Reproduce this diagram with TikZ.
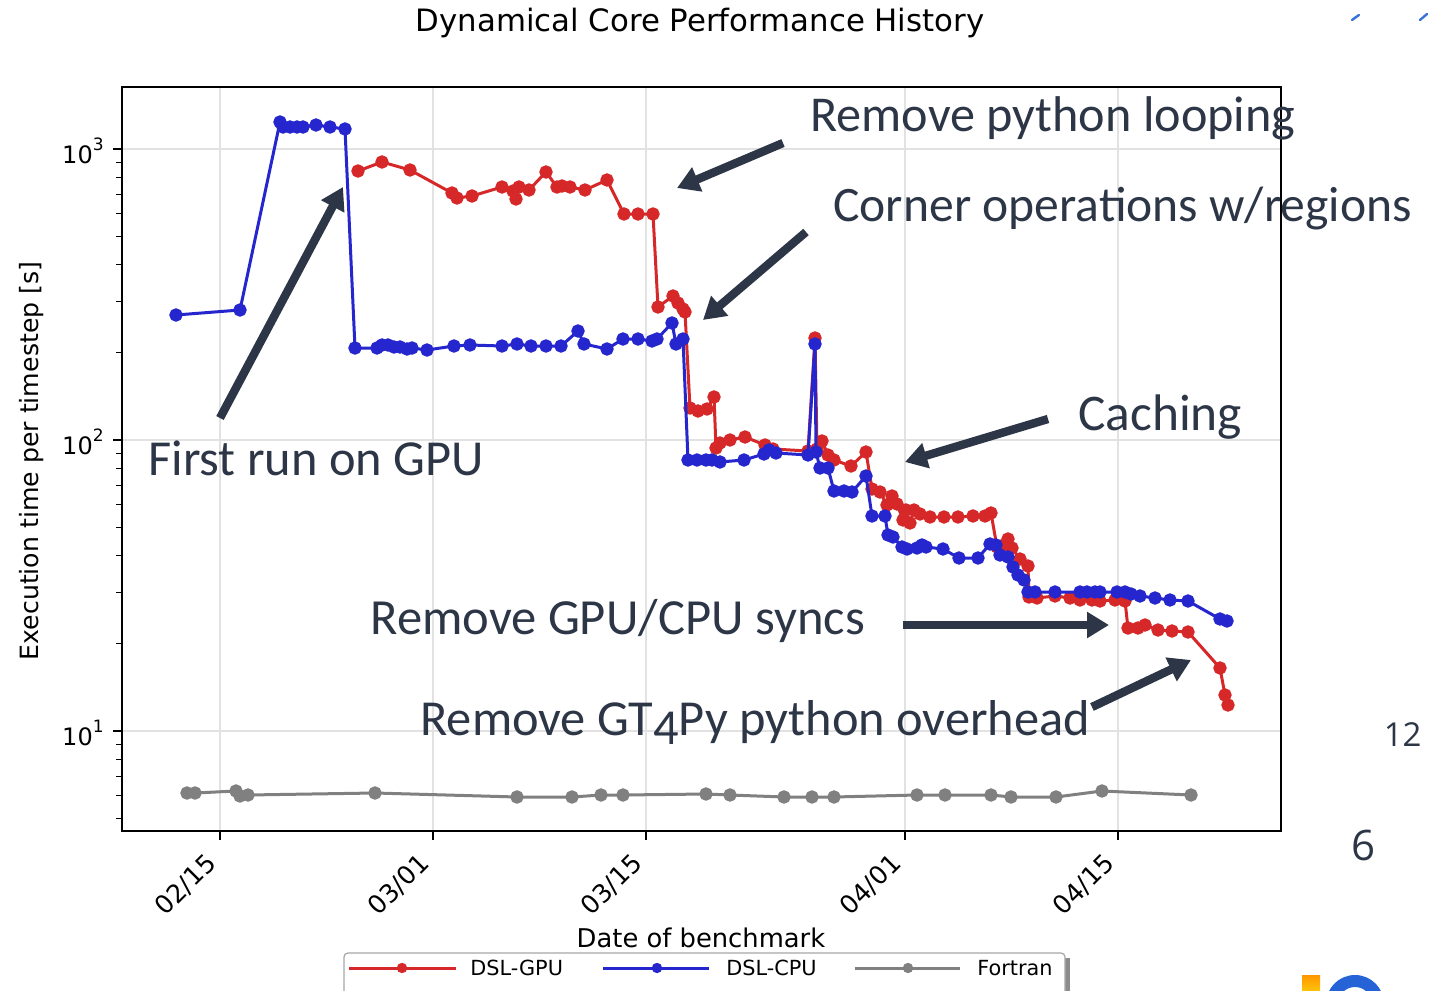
\documentclass[tikz,border=0pt]{standalone}
\usepackage{fontspec}
\setmainfont{DejaVu Sans}
\newfontfamily\annfont{Carlito}
\newfontfamily\sidefont{Open Sans}
\usetikzlibrary{arrows.meta}
\definecolor{gpu}{RGB}{214,40,40}
\definecolor{cpu}{RGB}{38,38,206}
\definecolor{ftn}{RGB}{128,128,128}
\definecolor{ink}{RGB}{45,54,70}
\definecolor{gridc}{RGB}{226,226,226}
\definecolor{logoblue}{RGB}{37,99,214}
\definecolor{logoorange}{RGB}{255,150,0}
\definecolor{logoyellow}{RGB}{255,196,10}
\tikzset{
  series/.style={line width=1.5pt, line join=round, mark=*, mark size=2.6pt},
  gridline/.style={gridc, line width=0.6pt},
  tickline/.style={black, line width=0.6pt},
  annarrow/.style={ink, line width=4.2pt, -{Triangle[length=11pt,width=12.5pt]}},
  anntext/.style={ink, anchor=base west, inner sep=0pt},
  mpltext/.style={black, inner sep=0pt},
}
\newcommand{\fs}[1]{\fontsize{#1}{#1}\selectfont}
\begin{document}
\begin{tikzpicture}[x=0.5pt,y=-0.5pt]
\useasboundingbox (0,0) rectangle (1432,991);
\clip (0,0) rectangle (1432,991);
\fill[white] (0,0) rectangle (1432,991);

% title
\node[mpltext, font=\fs{15.4pt}] (title) at (700,23) {Dynamical Core Performance History};

% grid
\foreach \gx in {220,433,646,905,1118}
  \draw[gridline] (\gx,87) -- (\gx,831);
\foreach \gy in {149,440,731}
  \draw[gridline] (122,\gy) -- (1281,\gy);

% series
\draw[gpu, series, mark options={fill=gpu,draw=gpu}] plot coordinates {
(358,171)(382,162)(410,170)(452,193)(457,198)(472,196)(502,187)(513,191)(516,199)(519,187)(529,190)(546,172)(557,187)(562,186)(570,187)(585,190)(607,180)(624,214)(638,214)(653,214)(658,307)(673,296)(678,303)(683,309)(685,312)(690,408)(698,411)(707,409)(714,397)(716,448)(720,443)(730,440)(745,437)(765,445)(773,449)(808,451)(815,338)(817,449)(822,441)(828,455)(834,460)(851,466)(866,452)(872,489)(880,492)(887,505)(892,496)(897,504)(903,520)(906,510)(910,523)(914,510)(920,514)(930,517)(944,517)(958,517)(973,516)(985,516)(991,513)(997,547)(1004,545)(1008,539)(1012,548)(1020,559)(1028,566)(1029,597)(1037,598)(1055,596)(1070,598)(1080,600)(1092,600)(1100,601)(1115,600)(1125,601)(1128,628)(1138,628)(1145,625)(1158,630)(1172,631)(1188,632)(1220,668)(1225,695)(1228,705)};
\draw[cpu, series, mark options={fill=cpu,draw=cpu}] plot coordinates {
(176,315)(240,310)(280,122)(283,127)(290,127)(297,127)(303,127)(316,125)(330,127)(345,129)(355,348)(377,348)(382,345)(388,345)(394,347)(400,347)(407,349)(412,348)(427,350)(454,346)(470,345)(502,346)(517,344)(531,346)(546,346)(561,346)(578,331)(584,344)(607,349)(623,339)(638,339)(652,341)(657,339)(672,323)(676,344)(683,339)(688,460)(697,460)(706,460)(712,460)(720,462)(744,460)(764,454)(769,450)(776,453)(808,455)(815,344)(816,452)(820,468)(828,468)(834,491)(844,491)(852,492)(866,476)(872,516)(885,516)(888,535)(893,537)(902,547)(907,549)(917,548)(922,545)(926,547)(943,549)(959,558)(978,558)(990,544)(996,545)(1000,555)(1008,557)(1013,567)(1018,575)(1024,580)(1028,592)(1035,592)(1055,592)(1080,592)(1087,592)(1095,592)(1100,592)(1117,592)(1125,592)(1131,594)(1140,596)(1155,598)(1170,600)(1188,601)(1220,619)(1227,621)};
\draw[ftn, series, mark options={fill=ftn,draw=ftn}] plot coordinates {
(187,793)(195,793)(236,791)(240,796)(248,795)(375,793)(517,797)(572,797)(601,795)(623,795)(706,794)(730,795)(784,797)(812,797)(834,797)(917,795)(945,795)(991,795)(1011,797)(1056,797)(1102,791)(1191,795)};

% frame
\draw[black, line width=1pt] (122,87) rectangle (1281,831);

% y ticks
\foreach \ty in {149,440,731}
  \draw[tickline] (122,\ty) -- (113,\ty);
\foreach \ty in {818.6,795.6,776.1,759.2,744.3,643.4,592.2,555.8,527.6,504.6,485.1,468.2,453.3,352.4,301.2,264.8,236.6,213.6,194.1,177.2,162.3}
  \draw[tickline] (122,\ty) -- (116,\ty);
\node[mpltext, anchor=east, font=\fs{12pt}] (y3) at (104,151) {10\raisebox{0.55em}{\fs{8.5pt}3}};
\node[mpltext, anchor=east, font=\fs{12pt}] (y2) at (104,442) {10\raisebox{0.55em}{\fs{8.5pt}2}};
\node[mpltext, anchor=east, font=\fs{12pt}] (y1) at (104,733) {10\raisebox{0.55em}{\fs{8.5pt}1}};
\node[mpltext, rotate=90, font=\fs{12.6pt}] (ylab) at (32,461) {Execution time per timestep [s]};

% x ticks
\foreach \gx/\lab/\nm in {220/02{/}15/xa,433/03{/}01/xb,646/03{/}15/xc,905/04{/}01/xd,1118/04{/}15/xe} {
  \draw[tickline] (\gx,831) -- (\gx,840);
  \node[mpltext, rotate=45, anchor=east, font=\fs{12.7pt}] (\nm) at (\gx-8,859) {\lab};
}
\node[mpltext, font=\fs{12.9pt}] (xlab) at (701,938) {Date of benchmark};

% legend
\fill[black!45] (349,958) rectangle (1070,1000);
\draw[black!35, fill=white, rounded corners=2pt, line width=0.6pt] (344,953) rectangle (1065,996);
\draw[gpu, line width=1.5pt] (349,968) -- (456,968);
\fill[gpu] (402,968) circle[radius=2.6pt];
\node[mpltext, anchor=west, font=\fs{10.4pt}] (lg1) at (470,968) {DSL-GPU};
\draw[cpu, line width=1.5pt] (603,968) -- (709,968);
\fill[cpu] (657,968) circle[radius=2.6pt];
\node[mpltext, anchor=west, font=\fs{10.4pt}] (lg2) at (726,968) {DSL-CPU};
\draw[ftn, line width=1.5pt] (855,968) -- (960,968);
\fill[ftn] (908,968) circle[radius=2.6pt];
\node[mpltext, anchor=west, font=\fs{10.4pt}] (lg3) at (977,968) {Fortran};

% annotations
\node[anntext, font=\annfont\fs{25.1pt}] (a1) at (810,131) {Remove python looping};
\node[anntext, font=\annfont\fs{24.8pt}] (a2) at (833,221) {Corner operations w/regions};
\node[anntext, font=\annfont\fs{25.7pt}] (a3) at (1078,430) {Caching};
\node[anntext, font=\annfont\fs{25.2pt}] (a4) at (148,475) {First run on GPU};
\node[anntext, font=\annfont\fs{25.3pt}] (a5) at (370,634) {Remove GPU/CPU syncs};
\node[anntext, font=\annfont\fs{25.2pt}] (a6) at (420,735) {Remove GT\raisebox{-4.5pt}{4}Py python overhead};

\coordinate (t1) at (783,143); \coordinate (h1) at (677,188);
\coordinate (t2) at (806,232); \coordinate (h2) at (703,320);
\coordinate (t3) at (1048,419); \coordinate (h3) at (905,462);
\coordinate (t4) at (220,418); \coordinate (h4) at (343,187);
\coordinate (t5) at (903,625); \coordinate (h5) at (1109,625);
\coordinate (t6) at (1092,707); \coordinate (h6) at (1191,660);
\foreach \i in {1,...,6}
  \draw[annarrow] (t\i) -- (h\i);

% side texts
\node[ink, anchor=base east, inner sep=0pt, font=\sidefont\fs{16.5pt}] (s12) at (1422,746) {12};
\node[ink, anchor=base west, inner sep=0pt, font=\sidefont\fs{21pt}] (s6) at (1351,860) {6};

% top-right marks
\draw[logoblue!90, line width=1.2pt, line cap=round] (1352,20) -- (1359,15);
\draw[logoblue!90, line width=1.2pt, line cap=round] (1420,20) -- (1427,14);

% partial logo
\shade[top color=logoorange, bottom color=logoyellow] (1302,975) rectangle (1320,991);
\fill[logoblue, even odd rule] (1355,1004) circle[radius=29] (1355,1004) circle[radius=17];
\end{tikzpicture}
\end{document}
